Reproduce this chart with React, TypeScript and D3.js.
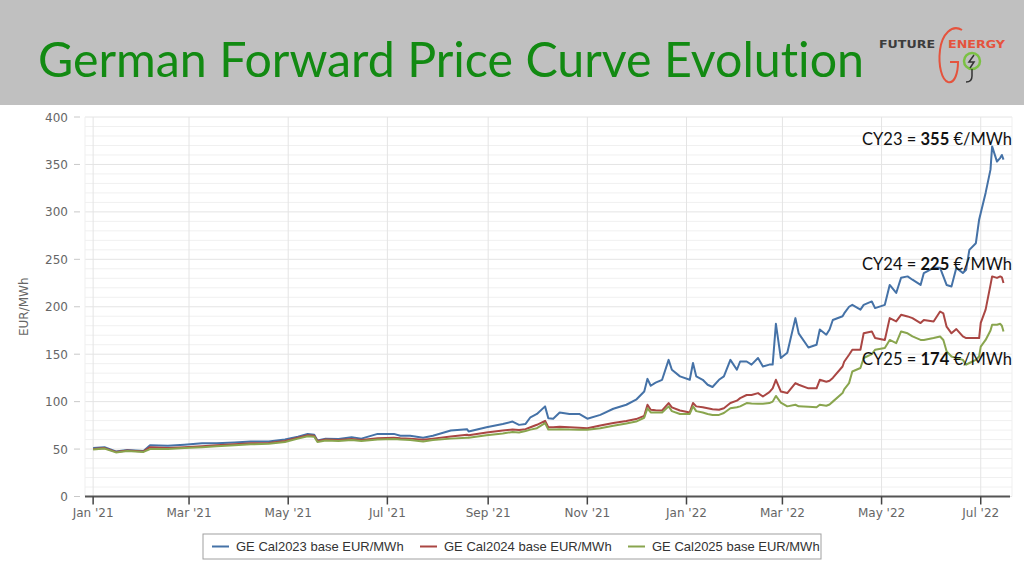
import React from "react";
import * as d3 from "d3";

const dates = [
  "2021-01-01","2021-01-08","2021-01-15","2021-01-22","2021-02-01","2021-02-05","2021-02-16","2021-02-26",
  "2021-03-09","2021-03-18","2021-03-29","2021-04-08","2021-04-19","2021-04-29","2021-05-07","2021-05-13",
  "2021-05-17","2021-05-19","2021-05-24","2021-06-01","2021-06-09","2021-06-15","2021-06-25","2021-07-05",
  "2021-07-09","2021-07-15","2021-07-23","2021-07-29","2021-08-09","2021-08-19","2021-08-20","2021-08-31",
  "2021-09-10","2021-09-16","2021-09-20","2021-09-24","2021-09-27","2021-10-01","2021-10-06","2021-10-08",
  "2021-10-11","2021-10-15","2021-10-21","2021-10-27","2021-11-01","2021-11-09","2021-11-17","2021-11-25",
  "2021-12-01","2021-12-06","2021-12-08","2021-12-10","2021-12-13","2021-12-17","2021-12-21","2021-12-23",
  "2021-12-28","2022-01-03","2022-01-05","2022-01-07","2022-01-11","2022-01-14","2022-01-17","2022-01-21",
  "2022-01-24","2022-01-28","2022-02-01","2022-02-03","2022-02-07","2022-02-10","2022-02-14","2022-02-17",
  "2022-02-21","2022-02-23","2022-02-25","2022-02-28","2022-03-04","2022-03-09","2022-03-11","2022-03-17",
  "2022-03-22","2022-03-24","2022-03-28","2022-03-30","2022-04-01","2022-04-07","2022-04-08","2022-04-11",
  "2022-04-13","2022-04-18","2022-04-20","2022-04-25","2022-04-27","2022-05-03","2022-05-06","2022-05-10",
  "2022-05-13","2022-05-17","2022-05-20","2022-05-25","2022-05-27","2022-06-02","2022-06-06","2022-06-08",
  "2022-06-10","2022-06-13","2022-06-16","2022-06-20","2022-06-22","2022-06-24","2022-06-28","2022-06-30",
  "2022-07-01","2022-07-04","2022-07-07","2022-07-08","2022-07-11","2022-07-13","2022-07-14","2022-07-15",
];

const cal2023 = [
  51,52,47.5,49,48,54,53.5,54.5,
  56,56,57,58,58,60,63,66,
  65,59,61,60.5,62.5,61,66,66,
  64,64,62,64,69.5,71,68.5,73,
  76.5,79,75.5,76.5,83.5,87,95,82.5,
  82,88.5,87,87,82,86,92.5,96.7,
  102,110.7,124,116.7,120,123,144,133.6,
  126.6,123,140.7,126.6,123,117.8,115.4,123,
  126.6,144,133.6,142.3,142.3,139,146,137,
  139,139,182,146,151.5,188,172,157,
  160,176,170.5,176,186,190,193,200,
  202,197,202,205.6,198.6,202,223,214.5,
  230.6,232,228.5,223,235.5,241,241,232,
  223,221.4,241,235.5,239,260,267,291.7,
  298.8,320,344.5,369,353,357,360,355,
];

const cal2024 = [
  50,51,47,48.5,47.5,52,51,52,
  53,54,55,56,56.5,58.5,62,64.5,
  64,58.5,60,59.5,60.5,59.5,61.5,62,
  61.5,61,59.8,61,63.3,65,64.5,67.5,
  69.6,70.5,70,71,73,75.6,79.8,73,
  73,73.5,73,72.5,72,74.8,77.4,79.5,
  81.6,85,96.7,91.4,91,90.7,98.5,94,
  90.7,88.6,98.5,95,94,93,92,91.4,
  93,98.5,101,103.7,107,107,109,105.4,
  110,114,123,110.7,109,119.5,117.8,114,
  114,123,121,122,125,137,142,149.4,
  154.7,154.7,172,174,167,165,188,184.5,
  191.5,189.8,188,182.8,186,184.5,195,193,
  179,172,176.5,168.7,167,167,167,167,
  183,197,223,232,230.4,232,231,225,
];

const cal2025 = [
  49.5,50.5,46.5,48,47,50,50,51,
  52,53,54,55,55.5,57.5,61,63.5,
  63,57.5,59,58.5,59.5,58.5,60,60.5,
  60,59.5,58,59.5,61,62,62,64.5,
  66.5,68,67.5,69,70.5,72,77.4,70.5,
  70.5,71,70.5,70.3,70.3,72,74.5,77,
  79,83,93,88.6,88.6,88.6,95,90,
  87,87,95,90,88.6,87,86,86,
  88,93,94,95,98.5,98,97.7,97.7,
  98.5,100,106,99,95,96.7,95,94.5,
  94,96.7,95.6,97,100,109,113,119.5,
  131.8,135.4,146,150,154.7,156.5,165,161.7,
  174,172,168.7,165,165,167,168.7,165,
  153,147.6,146,144,139,140.7,144,147.6,
  158,165,175,181,181,182,180,174,
];

const seriesNames = ["GE Cal2023 base EUR/MWh", "GE Cal2024 base EUR/MWh", "GE Cal2025 base EUR/MWh"];
const seriesColors = ["#4572A7", "#AA4643", "#89A54E"];
const yTicks = [0, 50, 100, 150, 200, 250, 300, 350, 400];
const annotations = [
  { label: "CY23", value: "355" },
  { label: "CY24", value: "225" },
  { label: "CY25", value: "174" },
];
const annotationY = [145, 270, 365];

const W = 1024, H = 576;
const plot = { left: 85, right: 1010, top: 117, bottom: 496.5 };

export default function App() {
  const parse = d3.timeParse("%Y-%m-%d");
  const parsed = dates.map((d) => parse(d) as Date);
  const x = d3
    .scaleTime()
    .domain([parse("2020-12-27") as Date, parse("2022-07-19") as Date])
    .range([plot.left, plot.right]);
  const y = d3.scaleLinear().domain([0, 400]).range([plot.bottom, plot.top]);
  const xTicks = x.ticks(d3.timeMonth.every(2) as any).filter((t) => t >= (parse("2021-01-01") as Date));
  const fmt = d3.timeFormat("%b '%y");
  const minor = d3.range(0, 401, 10).filter((v) => v % 50 !== 0);
  const all = [cal2023, cal2024, cal2025];
  const line = (vals: number[]) =>
    d3
      .line<number>()
      .x((_, i) => x(parsed[i]))
      .y((v) => y(v))(vals) as string;

  const axisFont = "'DejaVu Sans', Verdana, sans-serif";
  const legendX = [212, 420, 628];
  const noLig = { fontVariantLigatures: "none" as const, fontFeatureSettings: "'liga' 0, 'clig' 0" };

  return (
    <div style={{ width: W, height: H }}>
      <style>{`body{margin:0}`}</style>
      <svg width={W} height={H} style={{ display: "block" }}>
        <rect x={0} y={0} width={W} height={H} fill="#ffffff" />
        {/* header */}
        <rect x={0} y={0} width={W} height={105} fill="#c0c0c0" />
        <text
          x={38}
          y={77}
          fontFamily="Lato, 'Open Sans', sans-serif"
          fontSize={48}
          fill="#128a12"
          textLength={826}
          lengthAdjust="spacingAndGlyphs"
          style={noLig}
        >
          German Forward Price Curve Evolution
        </text>
        {/* logo */}
        <g>
          <text x={879} y={48} fontFamily="'DejaVu Sans Condensed', 'DejaVu Sans', sans-serif" fontWeight="bold" fontSize={11} fill="#3c3c3c" textLength={56} lengthAdjust="spacingAndGlyphs">FUTURE</text>
          <text x={948} y={48} fontFamily="'DejaVu Sans Condensed', 'DejaVu Sans', sans-serif" fontWeight="bold" fontSize={11} fill="#e5533d" textLength={57} lengthAdjust="spacingAndGlyphs">ENERGY</text>
          <path d="M962,30 C952,24 942,34 940,50 C938,66 942,80 948,82 C955,84 958,72 958,62 L950,62" fill="none" stroke="#e5533d" strokeWidth={2} />
          <circle cx={972} cy={61} r={8} fill="none" stroke="#7ac143" strokeWidth={2.5} />
          <path d="M974,55 L969,62 L974,62 L970,68" fill="none" stroke="#333" strokeWidth={1.5} />
          <path d="M972,69 L972,76 Q972,82 966,82" fill="none" stroke="#333" strokeWidth={1.5} />
        </g>
        {/* grid */}
        {minor.map((v) => (
          <line key={"mi" + v} x1={plot.left} x2={plot.right + 2} y1={y(v)} y2={y(v)} stroke="#f0f0f0" strokeWidth={1} />
        ))}
        {yTicks.map((v) => (
          <line key={"ma" + v} x1={plot.left} x2={plot.right + 2} y1={y(v)} y2={y(v)} stroke="#e4e4e4" strokeWidth={1} />
        ))}
        <line x1={plot.left} x2={plot.left} y1={plot.top} y2={plot.bottom} stroke="#efefef" />
        <line x1={plot.right + 2} x2={plot.right + 2} y1={plot.top} y2={plot.bottom} stroke="#efefef" />
        {xTicks.map((t, i) => (
          <line key={"vg" + i} x1={x(t)} x2={x(t)} y1={plot.top} y2={plot.bottom} stroke="#e4e4e4" strokeWidth={1} />
        ))}
        {/* y axis */}
        {yTicks.map((v) => (
          <g key={"yt" + v}>
            <line x1={74} x2={80} y1={y(v)} y2={y(v)} stroke="#c8c8c8" />
            <text x={68} y={y(v) + 4.5} textAnchor="end" fontFamily={axisFont} fontSize={12} fill="#666">
              {v}
            </text>
          </g>
        ))}
        <text
          transform={`translate(28,${(plot.top + plot.bottom) / 2}) rotate(-90)`}
          textAnchor="middle"
          fontFamily={axisFont}
          fontSize={12}
          fill="#666"
        >
          EUR/MWh
        </text>
        {/* series */}
        {all.map((vals, i) => (
          <path key={"s" + i} d={line(vals)} fill="none" stroke={seriesColors[i]} strokeWidth={2} strokeLinejoin="round" />
        ))}
        {/* x axis */}
        <line x1={plot.left} x2={plot.right} y1={plot.bottom} y2={plot.bottom} stroke="#555" strokeWidth={2} />
        {xTicks.map((t, i) => (
          <g key={"xt" + i}>
            <line x1={x(t)} x2={x(t)} y1={plot.bottom} y2={plot.bottom + 8} stroke="#444" strokeWidth={1.5} />
            <text x={x(t)} y={517} textAnchor="middle" fontFamily={axisFont} fontSize={12} fill="#666">
              {fmt(t)}
            </text>
          </g>
        ))}
        {/* annotations */}
        {annotations.map((a, i) => (
          <text key={"an" + i} x={862} y={annotationY[i]} fontFamily="Lato, 'Open Sans', sans-serif" fontSize={16.5} fill="#111">
            <tspan>{a.label} = </tspan>
            <tspan fontWeight="bold">{a.value}</tspan>
            <tspan> €/MWh</tspan>
          </text>
        ))}
        {/* legend */}
        <rect x={203} y={534} width={618} height={25} fill="#fff" stroke="#a0a0a0" strokeWidth={1} />
        {seriesNames.map((n, i) => (
          <g key={"lg" + i}>
            <line x1={legendX[i]} x2={legendX[i] + 17} y1={546.5} y2={546.5} stroke={seriesColors[i]} strokeWidth={2} />
            <text x={legendX[i] + 24} y={551} fontFamily="'Liberation Sans', Arial, sans-serif" fontSize={13} fill="#333">
              {n}
            </text>
          </g>
        ))}
      </svg>
    </div>
  );
}
